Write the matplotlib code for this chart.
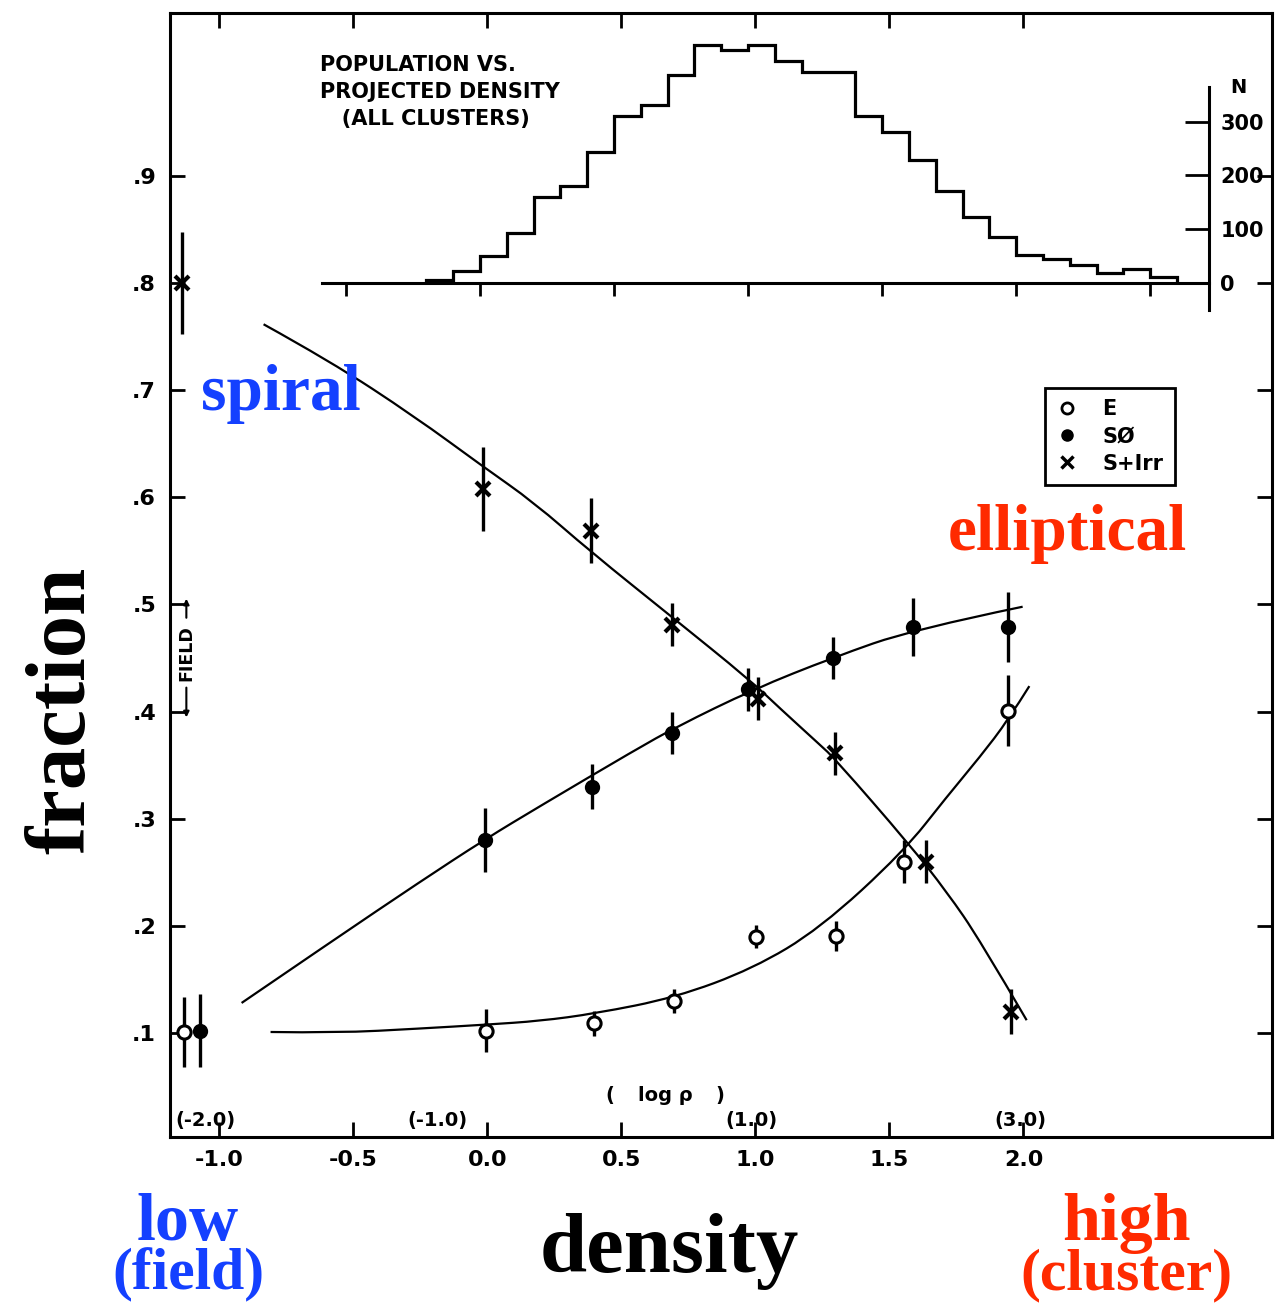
import numpy as np
import matplotlib
matplotlib.use("Agg")
import matplotlib.pyplot as plt
from matplotlib.lines import Line2D
from matplotlib.path import Path
from matplotlib.patches import PathPatch

# ---------------- data ----------------
# morphological fractions vs log projected density
x_spiral = [-1.138, -0.015, 0.386, 0.688, 1.011, 1.297, 1.635, 1.952]
f_spiral = [0.800, 0.608, 0.569, 0.481, 0.412, 0.361, 0.260, 0.120]
e_spiral = [0.048, 0.039, 0.030, 0.020, 0.020, 0.020, 0.020, 0.021]

x_s0 = [-1.072, -0.009, 0.390, 0.690, 0.974, 1.291, 1.587, 1.943]
f_s0 = [0.102, 0.280, 0.330, 0.380, 0.421, 0.450, 0.479, 0.479]
e_s0 = [0.034, 0.030, 0.021, 0.020, 0.020, 0.020, 0.027, 0.033]

x_e = [-1.130, -0.006, 0.399, 0.698, 1.001, 1.300, 1.555, 1.941]
f_e = [0.101, 0.102, 0.109, 0.130, 0.190, 0.191, 0.260, 0.401]
e_e = [0.033, 0.020, 0.012, 0.011, 0.011, 0.014, 0.020, 0.033]

# fitted curves
cx_spiral = [-0.834, -0.587, -0.270, -0.015, 0.174, 0.386, 0.688, 0.980, 1.092, 1.241, 1.297, 1.577, 1.714, 1.838, 2.012]
cy_spiral = [0.7615, 0.7273, 0.6753, 0.6286, 0.5953, 0.5492, 0.4885, 0.4294, 0.4030, 0.3690, 0.3560, 0.2753, 0.2318, 0.1867, 0.1120]

cx_s0 = [-0.916, -0.574, -0.251, -0.009, 0.197, 0.551, 0.706, 0.992, 1.291, 1.589, 1.997]
cy_s0 = [0.1281, 0.1866, 0.2411, 0.2807, 0.3118, 0.3641, 0.3858, 0.4207, 0.4506, 0.4767, 0.4979]

cx_e = [-0.808, -0.562, -0.251, -0.002, 0.197, 0.402, 0.701, 0.992, 1.241, 1.552, 1.714, 1.838, 1.943, 2.022]
cy_e = [0.1010, 0.1001, 0.1042, 0.1079, 0.1113, 0.1182, 0.1331, 0.1602, 0.1976, 0.2691, 0.3205, 0.3578, 0.3921, 0.4238]

# population histogram (all clusters), bins of 0.1 in log density
hist_edges = [round(-0.2 + 0.1 * k, 2) for k in range(29)]
hist_counts = [5, 22, 50, 93, 160, 181, 243, 311, 331, 387, 443, 433, 443, 413,
               393, 393, 311, 281, 228, 171, 122, 85, 52, 44, 33, 18, 25, 10]

xtick_vals = [-1.0, -0.5, 0.0, 0.5, 1.0, 1.5, 2.0]
xtick_labels = ["-1.0", "-0.5", "0.0", "0.5", "1.0", "1.5", "2.0"]
ytick_vals = [0.1, 0.2, 0.3, 0.4, 0.5, 0.6, 0.7, 0.8, 0.9]
ytick_labels = [".1", ".2", ".3", ".4", ".5", ".6", ".7", ".8", ".9"]
rho_labels = ["(-2.0)", "(-1.0)", "(1.0)", "(3.0)"]
rho_pos = [-1.05, -0.186, 0.987, 1.99]
nticks = [0, 100, 200, 300]

# ---------------- figure ----------------
W, H = 1277, 1305
fig = plt.figure(figsize=(W / 100, H / 100), dpi=100)
fig.patch.set_facecolor("white")

L, R, T, B = 170, 1272, 13, 1137
pos = [L / W, 1 - B / H, (R - L) / W, (B - T) / H]
ax = fig.add_axes(pos)
ax.set_xlim(-1.183, 2.927)
ax.set_ylim(0.003, 1.052)

bold = dict(family="DejaVu Sans", weight="bold")
for s in ax.spines.values():
    s.set_linewidth(2.2)
ax.set_xticks(xtick_vals)
ax.set_xticklabels(xtick_labels, fontsize=16, **bold)
ax.set_yticks(ytick_vals)
ax.set_yticklabels(ytick_labels, fontsize=16, **bold)
ax.tick_params(direction="in", length=11, width=2, top=True, right=True, pad=9)
ax.tick_params(axis="y", pad=10)


def smooth_curve(axis, xs, ys):
    """Smooth path using the read points as quadratic control points."""
    pts = list(zip(xs, ys))
    verts = [pts[0]]
    codes = [Path.MOVETO]
    for i in range(1, len(pts) - 2):
        mid = ((pts[i][0] + pts[i + 1][0]) / 2, (pts[i][1] + pts[i + 1][1]) / 2)
        verts += [pts[i], mid]
        codes += [Path.CURVE3, Path.CURVE3]
    verts += [pts[-2], pts[-1]]
    codes += [Path.CURVE3, Path.CURVE3]
    axis.add_patch(PathPatch(Path(verts, codes), fill=False, lw=1.6,
                             edgecolor="black", zorder=2))


for cx, cy in [(cx_spiral, cy_spiral), (cx_s0, cy_s0), (cx_e, cy_e)]:
    smooth_curve(ax, cx, cy)

# data with error bars
ax.errorbar(x_spiral, f_spiral, yerr=e_spiral, fmt="x", color="black", ms=10,
            mew=3, elinewidth=2.4, capsize=0, zorder=3)
ax.errorbar(x_s0, f_s0, yerr=e_s0, fmt="o", color="black", ms=9,
            mew=2, elinewidth=2.4, capsize=0, zorder=3)
ax.errorbar(x_e, f_e, yerr=e_e, fmt="o", color="black", mfc="white", mec="black",
            ms=9.5, mew=2.2, elinewidth=2.4, capsize=0, zorder=4)

# FIELD marker
ax.text(-1.122, 0.455, "FIELD", rotation=90, ha="center", va="center",
        fontsize=12.5, **bold)
ax.annotate("", xy=(-1.122, 0.508), xytext=(-1.122, 0.485),
            arrowprops=dict(arrowstyle="-|>", lw=1.5, color="k", mutation_scale=8))
ax.annotate("", xy=(-1.122, 0.392), xytext=(-1.122, 0.425),
            arrowprops=dict(arrowstyle="-|>", lw=1.5, color="k", mutation_scale=8))

# log rho labels
for p, t in zip(rho_pos, rho_labels):
    ax.text(p, 0.0186, t, ha="center", va="center", fontsize=14, **bold)
ax.text(0.458, 0.042, "(", ha="center", va="center", fontsize=14, **bold)
ax.text(0.663, 0.042, "log ρ", ha="center", va="center", fontsize=14, **bold)
ax.text(0.868, 0.042, ")", ha="center", va="center", fontsize=14, **bold)

# legend
handles = [
    Line2D([], [], marker="o", ls="none", mfc="white", mec="black", ms=8, mew=2),
    Line2D([], [], marker="o", ls="none", color="black", ms=8),
    Line2D([], [], marker="x", ls="none", color="black", ms=8, mew=2.5),
]
leg = ax.legend(handles, ["E", "SØ", "S+Irr"], loc="upper left",
                bbox_to_anchor=(0.794, 0.6664), borderaxespad=0, fancybox=False,
                edgecolor="black", framealpha=1,
                prop=dict(family="DejaVu Sans", weight="bold", size=15),
                handlelength=1.0, handletextpad=1.2, labelspacing=0.34, borderpad=0.55)
leg.get_frame().set_linewidth(2)

# histogram inset on an overlay axes (own scale)
axh = fig.add_axes(pos, facecolor="none")
N_per_px = 100 / 53.7
axh.set_xlim(-1.183 + 0.027, 2.927 + 0.027)
axh.set_ylim(-(B - 282.7) * N_per_px, (282.7 - T) * N_per_px)
axh.stairs(hist_counts, hist_edges, color="black", lw=2.3, baseline=0)
for k in ["top", "left"]:
    axh.spines[k].set_visible(False)
axh.spines["bottom"].set_position(("data", 0))
axh.spines["bottom"].set_bounds(-0.59, 2.72)
axh.spines["bottom"].set_linewidth(2.2)
axh.spines["right"].set_position(("data", 2.72))
axh.spines["right"].set_bounds(-50, 364)
axh.spines["right"].set_linewidth(2.2)
axh.set_xticks([-0.5, 0.0, 0.5, 1.0, 1.5, 2.0, 2.5])
axh.set_xticklabels([])
axh.tick_params(axis="x", direction="out", length=9, width=2)
axh.yaxis.tick_right()
axh.set_yticks(nticks)
axh.set_yticklabels([str(n) for n in nticks], fontsize=15, **bold)
axh.tick_params(axis="y", direction="in", length=17, width=2, pad=8)
axh.text(2.72 + 0.08, 364, "N", ha="left", va="center", fontsize=14, **bold)
axh.text(-0.597, 424, "POPULATION VS.\nPROJECTED DENSITY\n   (ALL CLUSTERS)", ha="left",
         va="top", fontsize=15, linespacing=1.45, **bold)

# large annotations
serif = dict(family="Liberation Serif", weight="bold")
blue = "#1440ff"
red = "#ff2a00"


def ftext(px, py, s, **kw):
    fig.text(px / W, 1 - py / H, s, **kw)


ftext(281, 410, "spiral", ha="center", va="baseline", fontsize=47, color=blue, **serif)
ftext(1067, 550, "elliptical", ha="center", va="baseline", fontsize=47, color=red, **serif)
ftext(84, 710, "fraction", ha="center", va="baseline", rotation=90, rotation_mode="anchor",
      fontsize=61, color="black", **serif)
ftext(669, 1272, "density", ha="center", va="baseline", fontsize=61, color="black", **serif)
ftext(188, 1240, "low", ha="center", va="baseline", fontsize=49, color=blue, **serif)
ftext(188, 1289, "(field)", ha="center", va="baseline", fontsize=43, color=blue, **serif)
ftext(1126, 1240, "high", ha="center", va="baseline", fontsize=49, color=red, **serif)
ftext(1126, 1289, "(cluster)", ha="center", va="baseline", fontsize=43, color=red, **serif)

fig.savefig("out.png", dpi=100, facecolor="white")
